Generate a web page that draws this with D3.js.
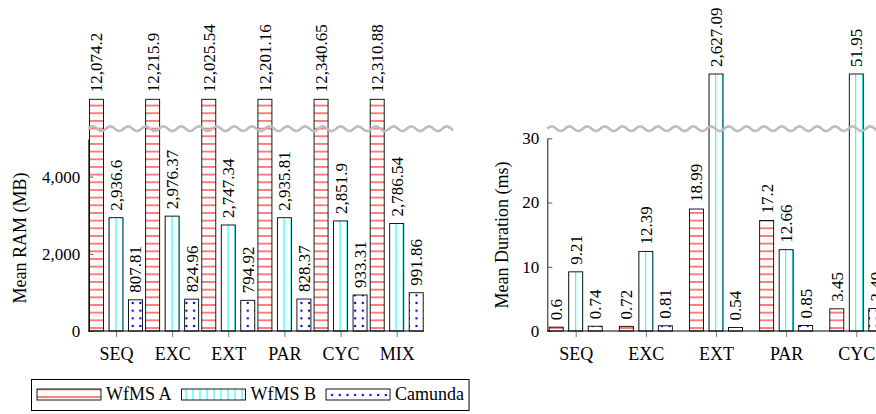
<!DOCTYPE html>
<html>
<head>
<meta charset="utf-8">
<script src="https://cdn.jsdelivr.net/npm/d3@7"></script>
<style>
body { margin: 0; background: #fff; }
#chart text { font-family: "Liberation Serif", "DejaVu Serif", serif !important; font-size: 18px; fill: #000; }
#chart text.num { font-size: 17px; }
</style>
</head>
<body>
<svg id="chart" width="876" height="414"></svg>
<script>
// data
const series = ["WfMS A", "WfMS B", "Camunda"]

const ramCategories = ["SEQ", "EXC", "EXT", "PAR", "CYC", "MIX"]
const ramA = [12074.2, 12215.9, 12025.54, 12201.16, 12340.65, 12310.88]
const ramB = [2936.6, 2976.37, 2747.34, 2935.81, 2851.9, 2786.54]
const ramC = [807.81, 824.96, 794.92, 828.37, 933.31, 991.86]
const ramTicks = [0, 2000, 4000]

const durCategories = ["SEQ", "EXC", "EXT", "PAR", "CYC"]
const durA = [0.6, 0.72, 18.99, 17.2, 3.45]
const durB = [9.21, 12.39, 2627.09, 12.66, 51.95]
const durC = [0.74, 0.81, 0.54, 0.85, 3.49]
const durTicks = [0, 10, 20, 30]

const svg = d3.select("#chart")
const defs = svg.append("defs")
const baseY = 331
const barW = 14
const fmt = d3.format(",")

// fill patterns (tiled in page space, like tikz patterns)
const hStep = 7.67
var p = defs.append("pattern").attr("id", "hlines")
    .attr("patternUnits", "userSpaceOnUse")
    .attr("width", 8).attr("height", hStep)
    .attr("y", baseY - 3 - hStep / 2)
p.append("rect").attr("width", 8).attr("height", hStep).attr("fill", "#fff")
p.append("line").attr("x1", 0).attr("x2", 8).attr("y1", hStep / 2).attr("y2", hStep / 2)
    .attr("stroke", "red").attr("stroke-width", 1)

p = defs.append("pattern").attr("id", "dots")
    .attr("patternUnits", "userSpaceOnUse")
    .attr("width", hStep).attr("height", hStep)
    .attr("x", 132.7 - hStep / 2).attr("y", 326 - hStep / 2)
p.append("rect").attr("width", hStep).attr("height", hStep).attr("fill", "#fff")
p.append("circle").attr("cx", hStep / 2).attr("cy", hStep / 2).attr("r", 1.2).attr("fill", "blue")

function vlinesPattern(id, x0) {
    var w = 7
    var vp = defs.append("pattern").attr("id", id)
        .attr("patternUnits", "userSpaceOnUse")
        .attr("width", w).attr("height", 10)
        .attr("x", x0 - w / 2)
    vp.append("rect").attr("width", w).attr("height", 10).attr("fill", "#fff")
    vp.append("line").attr("x1", w / 2).attr("x2", w / 2).attr("y1", 0).attr("y2", 10)
        .attr("stroke", "cyan").attr("stroke-width", 1)
}

function wave(x0, x1, yc) {
    var pts = d3.range(x0, x1 + 0.5, 0.5).map(x => [x, yc + 2.3 * Math.sin(2 * Math.PI * (x - x0) / 17.7 + Math.PI)])
    svg.append("path").attr("d", d3.line()(pts))
        .attr("fill", "none").attr("stroke", "#bdbdbd").attr("stroke-width", 2.6)
}

function drawPanel(o) {
    var g = svg.append("g")
    var x = d3.scalePoint().domain(o.categories).range(o.xRange)
    var sub = d3.scalePoint().domain(series).range([-19.5, 19.5])
    var y = d3.scaleLinear().domain([0, o.yMax]).range([baseY, o.yTop])
    var topOf = v => v > o.yMax ? o.capY : y(v)

    vlinesPattern(o.id + "-vlines", x(o.categories[0]))
    var fills = { "WfMS A": "url(#hlines)", "WfMS B": `url(#${o.id}-vlines)`, "Camunda": "url(#dots)" }

    var rows = []
    o.values.forEach((vals, si) => {
        vals.forEach((v, ci) => rows.push({ s: series[si], c: o.categories[ci], v: v }))
    })

    g.selectAll("rect.bar").data(rows).join("rect")
        .attr("class", "bar")
        .attr("x", d => x(d.c) + sub(d.s) - barW / 2)
        .attr("y", d => topOf(d.v))
        .attr("width", barW)
        .attr("height", d => baseY - topOf(d.v))
        .attr("fill", d => fills[d.s])
        .attr("stroke", "#000").attr("stroke-width", 0.9)

    // axes
    var ya = g.append("g").attr("transform", `translate(${o.axisX0},0)`)
        .call(d3.axisLeft(y).tickValues(o.ticks).tickFormat(fmt).tickSizeInner(-5).tickSizeOuter(0).tickPadding(8))
    ya.attr("font-family", null).attr("font-size", null)
    ya.selectAll("text").attr("class", "num")
    ya.select(".domain").attr("stroke", "#000").attr("stroke-width", 0.9)
    ya.selectAll(".tick line").attr("stroke", "#555")

    var xa = g.append("g").attr("transform", `translate(0,${baseY})`)
        .call(d3.axisBottom(x).tickSize(6).tickPadding(10))
    xa.attr("font-family", null).attr("font-size", null)
    xa.select(".domain").remove()
    xa.selectAll(".tick line").attr("stroke", "#777")

    g.append("line").attr("x1", o.axisX0).attr("x2", o.axisX1)
        .attr("y1", baseY).attr("y2", baseY).attr("stroke", "#000").attr("stroke-width", 1)

    g.append("text")
        .attr("transform", `translate(${o.titleX},${o.titleY}) rotate(-90)`)
        .attr("text-anchor", "middle")
        .attr("dy", "0.35em")
        .text(o.title)

    wave(o.axisX0, o.waveX1, 128.7)

    // value labels
    svg.append("g").selectAll("text").data(rows).join("text")
        .attr("class", "num")
        .attr("transform", d => `translate(${x(d.c) + sub(d.s)},${topOf(d.v) - 7}) rotate(-90)`)
        .attr("dy", "0.35em")
        .text(d => fmt(d.v))
}

drawPanel({
    id: "ram", categories: ramCategories, values: [ramA, ramB, ramC], ticks: ramTicks,
    xRange: [116, 396.7], yMax: 4975, yTop: 139, capY: 99.3,
    axisX0: 88.3, axisX1: 424, waveX1: 453,
    title: "Mean RAM (MB)", titleX: 20, titleY: 238
})

drawPanel({
    id: "dur", categories: durCategories, values: [durA, durB, durC], ticks: durTicks,
    xRange: [575.7, 856.3], yMax: 30, yTop: 138.3, capY: 74,
    axisX0: 547.3, axisX1: 900, waveX1: 900,
    title: "Mean Duration (ms)", titleX: 502, titleY: 235
})

// legend
var lg = svg.append("g")
var box = lg.append("rect").attr("x", 31.5).attr("y", 379.5).attr("height", 31)
    .attr("fill", "#fff").attr("stroke", "#000").attr("stroke-width", 1)
var legendFills = ["url(#hlines)", "url(#ram-vlines)", "url(#dots)"]
var cx = 37
series.forEach((s, i) => {
    lg.append("rect").attr("x", cx).attr("y", 389).attr("width", 64).attr("height", 11)
        .attr("fill", legendFills[i]).attr("stroke", "#000").attr("stroke-width", 0.9)
    var t = lg.append("text").attr("x", cx + 69).attr("y", 400).text(s)
    cx += 69 + t.node().getComputedTextLength() + 10
})
box.attr("width", cx - 10 + 5 - 31.5)
</script>
</body>
</html>
